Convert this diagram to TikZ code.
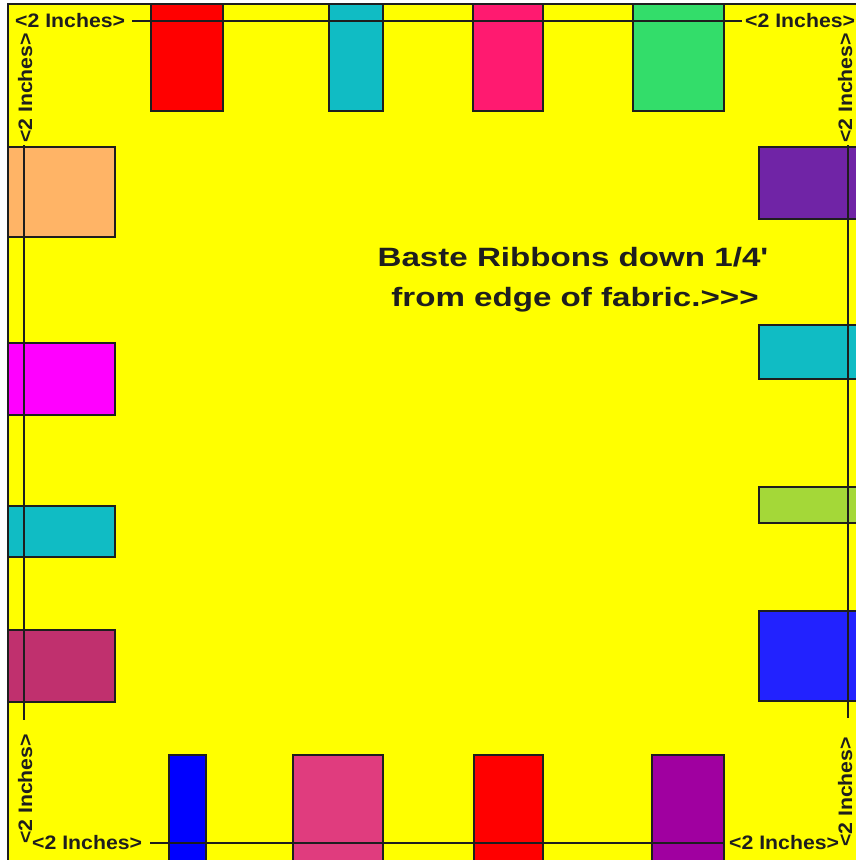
\documentclass[tikz,border=0pt]{standalone}
\usepackage{fontspec}
\setmainfont{Liberation Sans}[Ligatures=TeXOff]
\definecolor{bgyellow}{HTML}{FFFF00}
\definecolor{cred}{HTML}{FF0000}
\definecolor{cteal}{HTML}{10BCC4}
\definecolor{cpink}{HTML}{FF1A70}
\definecolor{cgreen}{HTML}{33DD6A}
\definecolor{cpeach}{HTML}{FFB466}
\definecolor{cmagenta}{HTML}{FF00FF}
\definecolor{cclaret}{HTML}{C0306E}
\definecolor{cpurple}{HTML}{7024A6}
\definecolor{clime}{HTML}{A4D838}
\definecolor{cblueR}{HTML}{2222FF}
\definecolor{cblue}{HTML}{0000FF}
\definecolor{cpinkB}{HTML}{E03C7E}
\definecolor{cviolet}{HTML}{A000A0}
\definecolor{ink}{HTML}{1E1E1E}
\begin{document}
\begin{tikzpicture}[x=1pt,y=-1pt,
  ribbon/.style={draw=ink, line width=2pt},
  guide/.style={draw=ink, line width=2pt},
  lbl/.style={inner sep=0pt, font=\fontsize{19.5}{20}\selectfont\bfseries, text=ink},
  big/.style={inner sep=0pt, font=\fontsize{26.5}{30}\selectfont\bfseries, text=ink}]
\useasboundingbox (0,0) rectangle (856,860);
\fill[white] (0,0) rectangle (856,860);
\fill[bgyellow] (8,4) rectangle (860,864);
\draw[ink, line width=2pt] (8,864) -- (8,4) -- (860,4);
% top ribbons
\path[ribbon, fill=cred] (151,4) rectangle (223,111);
\path[ribbon, fill=cteal] (329,4) rectangle (383,111);
\path[ribbon, fill=cpink] (473,4) rectangle (543,111);
\path[ribbon, fill=cgreen] (633,4) rectangle (724,111);
% left ribbons
\path[ribbon, fill=cpeach] (8,147) rectangle (115,237);
\path[ribbon, fill=cmagenta] (8,343) rectangle (115,415);
\path[ribbon, fill=cteal] (8,506) rectangle (115,557);
\path[ribbon, fill=cclaret] (8,630) rectangle (115,702);
% right ribbons
\path[ribbon, fill=cpurple] (759,147) rectangle (862,219);
\path[ribbon, fill=cteal] (759,325) rectangle (862,379);
\path[ribbon, fill=clime] (759,487) rectangle (862,523);
\path[ribbon, fill=cblueR] (759,611) rectangle (862,701);
% bottom ribbons
\path[ribbon, fill=cblue] (169,755) rectangle (206,866);
\path[ribbon, fill=cpinkB] (293,755) rectangle (383,866);
\path[ribbon, fill=cred] (474,755) rectangle (543,866);
\path[ribbon, fill=cviolet] (652,755) rectangle (724,866);
% guide line end points
\coordinate (t1) at (132,20.5);
\coordinate (t2) at (742,20.5);
\coordinate (b1) at (150,843);
\coordinate (b2) at (724,843);
\coordinate (l1) at (24,145);
\coordinate (l2) at (24,720);
\coordinate (r1) at (848,145);
\coordinate (r2) at (848,718);
\draw[guide] (t1) -- (t2);
\draw[guide] (b1) -- (b2);
\draw[guide] (l1) -- (l2);
\draw[guide] (r1) -- (r2);
% labels
\node[lbl, anchor=base west] (tl) at (15,27.5) {\scalebox{1.09}[1]{<2 Inches>}};
\node[lbl, anchor=base west] (tr) at (745,27.5) {\scalebox{1.09}[1]{<2 Inches>}};
\node[lbl, anchor=base west] (bl) at (32,849.5) {\scalebox{1.09}[1]{<2 Inches>}};
\node[lbl, anchor=base west] (br) at (729,849.5) {\scalebox{1.09}[1]{<2 Inches>}};
\node[lbl, rotate=90, anchor=base] (lt) at (32,88) {\scalebox{1.09}[1]{<2 Inches>}};
\node[lbl, rotate=90, anchor=base] (lb) at (32,789) {\scalebox{1.09}[1]{<2 Inches>}};
\node[lbl, rotate=90, anchor=base] (rt) at (852,88) {\scalebox{1.09}[1]{<2 Inches>}};
\node[lbl, rotate=90, anchor=base] (rb) at (852,792) {\scalebox{1.09}[1]{<2 Inches>}};
% main text
\node[big, anchor=base] (m1) at (573,266) {\scalebox{1.25}[1]{Baste Ribbons down 1/4'}};
\node[big, anchor=base] (m2) at (575,306) {\scalebox{1.25}[1]{from edge of fabric.>>>}};
\end{tikzpicture}
\end{document}
